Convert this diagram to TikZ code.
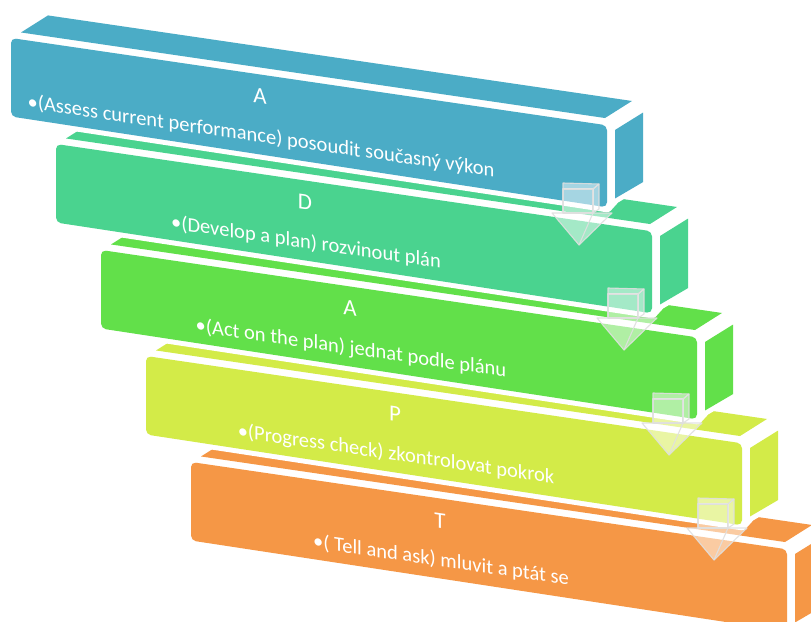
\documentclass[tikz,border=0pt]{standalone}
\usepackage{fontspec}
\setmainfont{Carlito}
\definecolor{stepA}{RGB}{75,172,198}
\definecolor{stepD}{RGB}{74,211,143}
\definecolor{stepAct}{RGB}{98,224,74}
\definecolor{stepP}{RGB}{211,235,72}
\definecolor{stepT}{RGB}{245,151,70}
\begin{document}
\begin{tikzpicture}[
    x=1pt,y=-1pt,
    halo/.style={fill=white,draw=white,line width=10pt,line join=round},
    title/.style={text=white,inner sep=0pt,font=\fontsize{23}{26}\selectfont,transform shape},
    item/.style={text=white,inner sep=0pt,font=\fontsize{20.5}{24}\selectfont,transform shape},
    downarrow/.style={fill=white,fill opacity=.5,draw=gray!25,draw opacity=.9,
        line width=1.1pt,line join=round}]
    \useasboundingbox (0,0) rectangle (811,621);
    \clip (0,0) rectangle (811,621);
    % steps, lowest first so the upper ones cover them
    \foreach \i/\col/\ttl/\txt in {
        4/stepT/T/{( Tell and ask) mluvit a ptát se},
        3/stepP/P/{(Progress check) zkontrolovat pokrok},
        2/stepAct/A/{(Act on the plan) jednat podle plánu},
        1/stepD/D/{(Develop a plan) rozvinout plán},
        0/stepA/A/{(Assess current performance) posoudit současný výkon}} {
        \begin{scope}[shift={(11+45*\i,38+106*\i)},yslant=-.1465]
            \filldraw[halo] (0,78.5) -- (0,0) -- (10,-7) -- (37,-28) --
                (621,-28) -- (632,-18) -- (632,51.5) -- (604,72) --
                (596,82) -- cycle;
            \fill[\col] (10,-7) -- (37,-28) -- (621,-28) -- (594,-7) -- cycle;
            \fill[\col] (604,3.5) -- (632,-18) -- (632,51.5) -- (604,72) -- cycle;
            \fill[\col,rounded corners=5pt]
                (0,0) -- (596,0) -- (596,82) -- (0,78.5) -- cycle;
            \node[title] (title\i) at (249,22) {\ttl};
            \node[item] (item\i) at (250,62) {•\txt};
        \end{scope}
    }
    % arrows between the steps
    \foreach \i in {0,...,3} {
        \begin{scope}[shift={(563+45*\i,183+105*\i)}]
            \draw[downarrow] (-11,30) -- (49,30) -- (16,62) -- cycle;
            \draw[downarrow] (30,30) -- (16,62);
            \draw[downarrow] (0,6) rectangle (30,30);
            \draw[downarrow] (0,0) -- (36,1) -- (30,6) -- (0,6) -- cycle;
            \draw[downarrow] (30,6) -- (36,1) -- (36,26) -- (30,30) -- cycle;
        \end{scope}
    }
\end{tikzpicture}
\end{document}
